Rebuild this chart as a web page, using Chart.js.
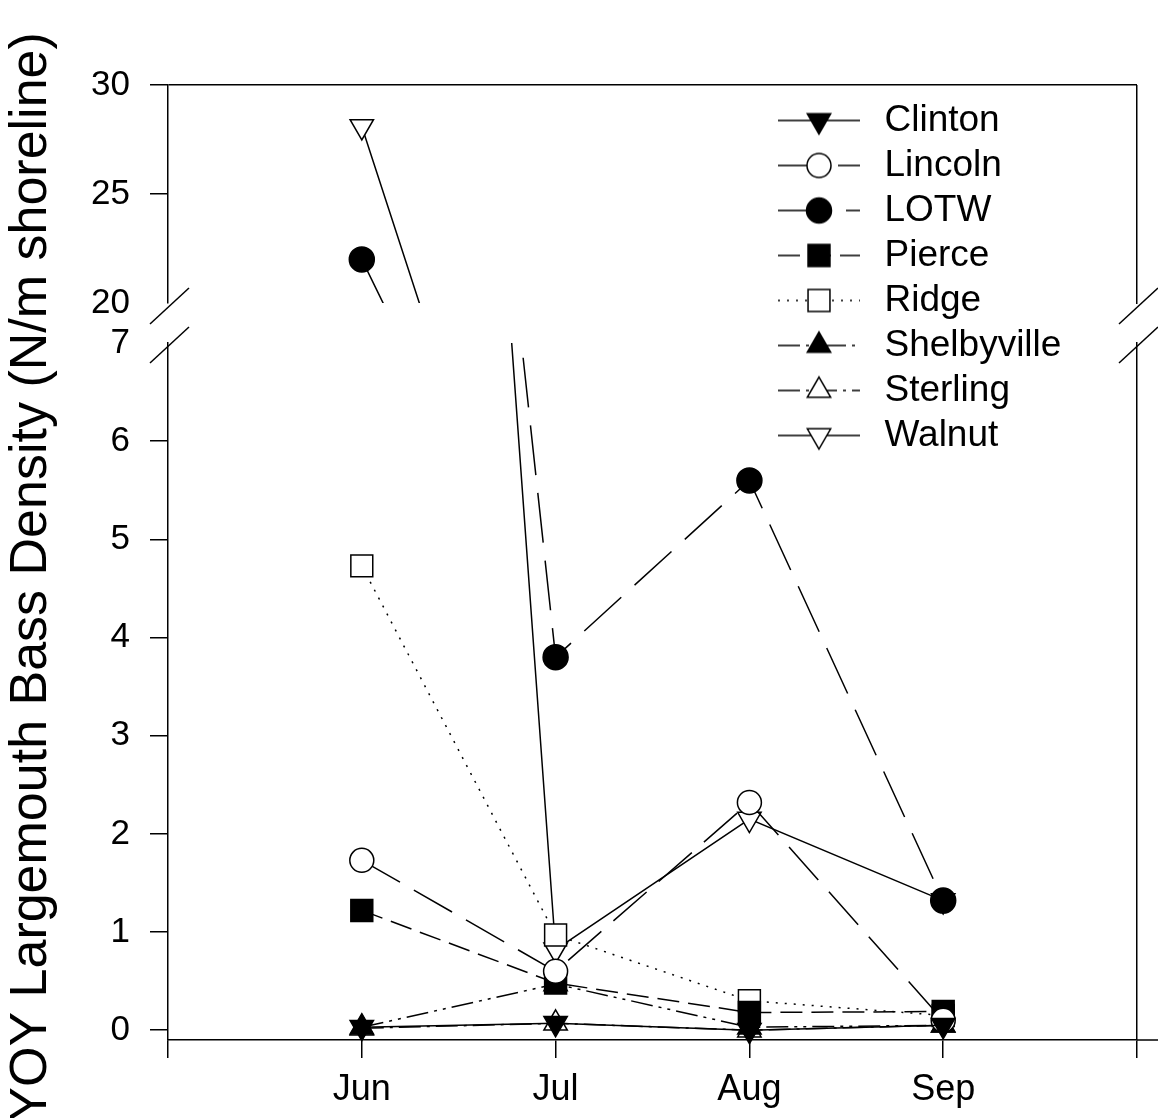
<!DOCTYPE html>
<html>
<head>
<meta charset="utf-8">
<script src="https://cdn.jsdelivr.net/npm/chart.js@4.4.1/dist/chart.umd.min.js"></script>
<style>
html,body{margin:0;padding:0;background:#fff;}
canvas{display:block;}
</style>
</head>
<body>
<canvas id="c" width="1158" height="1118"></canvas>
<script>
// ---------- data ----------
const months = ['Jun', 'Jul', 'Aug', 'Sep'];
const seriesNames = ['Clinton', 'Lincoln', 'LOTW', 'Pierce', 'Ridge', 'Shelbyville', 'Sterling', 'Walnut'];
const clinton     = [0.03, 0.07, 0.00, 0.05];
const lincoln     = [1.73, 0.60, 2.32, 0.10];
const lotw        = [22.0, 3.80, 5.60, 1.32];
const pierce      = [1.22, 0.48, 0.18, 0.19];
const ridge       = [4.73, 0.97, 0.30, 0.15];
const shelbyville = [0.03, 0.47, 0.03, 0.05];
const sterling    = [0.02, 0.07, 0.00, 0.05];
const walnut      = [28.1, 0.82, 2.15, 1.32];
const seriesValues = [clinton, lincoln, lotw, pierce, ridge, shelbyville, sterling, walnut];
const upperTicks = [20, 25, 30];
const lowerTicks = [0, 1, 2, 3, 4, 5, 6, 7];
const yTitleText = 'YOY Largemouth Bass Density (N/m shoreline)';

// ---------- styles ----------
const FONT = "'Liberation Sans', Arial, Helvetica, sans-serif";
const styles = [
  {shape: 'triangle', rot: 180, fill: '#000', r: 13.5, dash: []},                 // Clinton
  {shape: 'circle',   rot: 0,   fill: '#fff', r: 12,   dash: [44, 16]},           // Lincoln
  {shape: 'circle',   rot: 0,   fill: '#000', r: 12.5, dash: [50, 18]},           // LOTW
  {shape: 'rect',     rot: 0,   fill: '#000', r: 15.5, dash: [22, 9]},            // Pierce
  {shape: 'rect',     rot: 0,   fill: '#fff', r: 15.5, dash: [2, 7]},             // Ridge
  {shape: 'triangle', rot: 0,   fill: '#000', r: 13.5, dash: [22, 6, 3, 6, 3, 6]},// Shelbyville
  {shape: 'triangle', rot: 0,   fill: '#fff', r: 13.5, dash: [22, 6, 3, 6]},      // Sterling
  {shape: 'triangle', rot: 180, fill: '#fff', r: 13.5, dash: []}                  // Walnut
];

function drawMarker(g, st, x, y) {
  g.save();
  g.fillStyle = st.fill; g.strokeStyle = '#000'; g.lineWidth = 1.5; g.setLineDash([]);
  g.beginPath();
  const r = st.r;
  if (st.shape === 'circle') {
    g.arc(x, y, r, 0, Math.PI * 2);
  } else if (st.shape === 'rect') {
    const s = r * Math.SQRT1_2;
    g.rect(x - s, y - s, 2 * s, 2 * s);
  } else {
    let a = st.rot * Math.PI / 180;
    for (let k = 0; k < 3; k++) {
      const px = x + Math.sin(a) * r, py = y - Math.cos(a) * r;
      if (k === 0) g.moveTo(px, py); else g.lineTo(px, py);
      a += 2 * Math.PI / 3;
    }
    g.closePath();
  }
  g.fill(); g.stroke();
  g.restore();
}

function makeLegendImg(st) {
  const c = document.createElement('canvas');
  c.width = 88; c.height = 34;
  const g = c.getContext('2d');
  const cy = 17;
  g.strokeStyle = '#000'; g.lineWidth = 1.5; g.setLineDash(st.dash);
  g.beginPath(); g.moveTo(0, cy); g.lineTo(82, cy); g.stroke();
  drawMarker(g, st, 41, cy);
  return c;
}
const legendImgs = styles.map(makeLegendImg);

// ---------- datasets ----------
function toPoints(vals) { return vals.map((v, i) => ({x: i + 1, y: v})); }
function makeDataset(i, axis) {
  const st = styles[i];
  return {
    label: seriesNames[i],
    data: toPoints(seriesValues[i]),
    yAxisID: axis,
    borderColor: '#000',
    borderWidth: 1.5,
    borderDash: st.dash,
    tension: 0,
    fill: false,
    pointStyle: st.shape,
    pointRotation: st.rot,
    pointRadius: st.r,
    pointHoverRadius: st.r,
    pointBackgroundColor: st.fill,
    pointBorderColor: '#000',
    pointBorderWidth: 1.5,
    clip: axis === 'yBot' ? {left: 30, right: 30, top: 0, bottom: 25}
                          : {left: 30, right: 30, top: 25, bottom: 0}
  };
}
const datasets = [];
seriesNames.forEach((n, i) => datasets.push(makeDataset(i, 'yBot')));
seriesNames.forEach((n, i) => datasets.push(makeDataset(i, 'yTop')));

// ---------- plugin: axis break + legend placement ----------
const breakPlugin = {
  id: 'axisBreak',
  afterLayout(chart) {
    const lg = chart.legend;
    if (lg) {
      lg.left = 770; lg.top = 94; lg.right = 1130; lg.bottom = 1000;
      lg.width = 360; lg.height = 906;
    }
  },
  afterDraw(chart) {
    const ctx = chart.ctx;
    const {left, right, bottom} = chart.chartArea;
    const y20 = chart.scales.yTop.getPixelForValue(20);
    const y7 = chart.scales.yBot.getPixelForValue(7);
    ctx.save();
    // x axis line continues past the right frame
    ctx.strokeStyle = '#000';
    ctx.lineWidth = 1.5;
    ctx.beginPath();
    ctx.moveTo(right, bottom);
    ctx.lineTo(chart.width, bottom);
    ctx.stroke();
    // gap in the frame between the two y segments
    ctx.fillStyle = '#fff';
    [left, right].forEach(x => ctx.fillRect(x - 3, y20 + 1, 6, y7 - y20 - 2));
    [left, right].forEach(x => {
      [y20 + 4, y7 + 3].forEach(y => {
        ctx.beginPath();
        ctx.moveTo(x - 18, y + 17);
        ctx.lineTo(x + 21, y - 19);
        ctx.stroke();
      });
    });
    ctx.restore();
  }
};

Chart.defaults.font.family = FONT;
Chart.defaults.color = '#000';

const tickFont = {family: FONT, size: 35};

new Chart(document.getElementById('c'), {
  type: 'line',
  data: {datasets},
  options: {
    responsive: false,
    animation: false,
    devicePixelRatio: 1,
    events: [],
    layout: {padding: {top: 85, right: 21, bottom: 0, left: 0}},
    scales: {
      x: {
        type: 'linear', position: 'bottom', min: 0, max: 5,
        afterBuildTicks: s => { s.ticks = [0, 1, 2, 3, 4, 5].map(v => ({value: v})); },
        afterFit: s => { s.height = 78; },
        ticks: {
          autoSkip: false, maxRotation: 0, padding: 10, font: {family: FONT, size: 36}, color: '#000',
          callback: v => months[v - 1] !== undefined ? months[v - 1] : ''
        },
        grid: {
          drawOnChartArea: true, drawTicks: true, tickLength: 18, lineWidth: 1.5,
          color: c => (c.tick && c.tick.value === 5) ? '#000' : 'rgba(0,0,0,0)',
          tickColor: '#000'
        },
        border: {display: true, color: '#000', width: 1.5}
      },
      yBot: {
        type: 'linear', position: 'left', stack: 'ybreak', stackWeight: 697,
        min: -0.1, max: 7,
        afterBuildTicks: s => { s.ticks = lowerTicks.map(v => ({value: v})); },
        afterFit: s => { s.width = 108; },
        ticks: {padding: 20, font: tickFont, color: '#000'},
        grid: {
          drawOnChartArea: false, drawTicks: true, tickLength: 18, lineWidth: 1.5,
          color: '#000',
          tickColor: c => (c.tick && c.tick.value === 7) ? 'rgba(0,0,0,0)' : '#000'
        },
        border: {display: true, color: '#000', width: 1.5}
      },
      yGap: {
        type: 'linear', position: 'left', stack: 'ybreak', stackWeight: 40,
        min: 0, max: 1, display: false,
        afterFit: s => { s.width = 108; }
      },
      yTop: {
        type: 'linear', position: 'left', stack: 'ybreak', stackWeight: 218,
        min: 20, max: 30,
        afterBuildTicks: s => { s.ticks = upperTicks.map(v => ({value: v})); },
        afterFit: s => { s.width = 108; },
        ticks: {padding: 20, font: tickFont, color: '#000'},
        grid: {
          drawOnChartArea: true, drawTicks: true, tickLength: 18, lineWidth: 1.5,
          color: c => (c.tick && c.tick.value === 30) ? '#000' : 'rgba(0,0,0,0)',
          tickColor: c => (c.tick && c.tick.value === 20) ? 'rgba(0,0,0,0)' : '#000'
        },
        border: {display: true, color: '#000', width: 1.5}
      },
      yTitle: {
        type: 'linear', position: 'left', weight: 10, min: 0, max: 1,
        afterFit: s => { s.width = 60; },
        ticks: {display: false},
        grid: {display: false, drawTicks: false},
        border: {display: false},
        title: {display: true, text: yTitleText + '  ', color: '#000', padding: 0, font: {family: FONT, size: 52}}
      }
    },
    plugins: {
      tooltip: {enabled: false},
      legend: {
        display: true,
        position: 'chartArea',
        align: 'start',
        labels: {
          usePointStyle: true,
          pointStyleWidth: 88,
          padding: 8,
          color: '#000',
          font: {family: FONT, size: 37},
          generateLabels: () => seriesNames.map((n, i) => ({
            text: n, pointStyle: legendImgs[i], rotation: 0,
            fillStyle: '#000', strokeStyle: '#000', lineWidth: 0,
            hidden: false, datasetIndex: i, fontColor: '#000'
          }))
        }
      }
    }
  },
  plugins: [breakPlugin]
});
</script>
</body>
</html>
